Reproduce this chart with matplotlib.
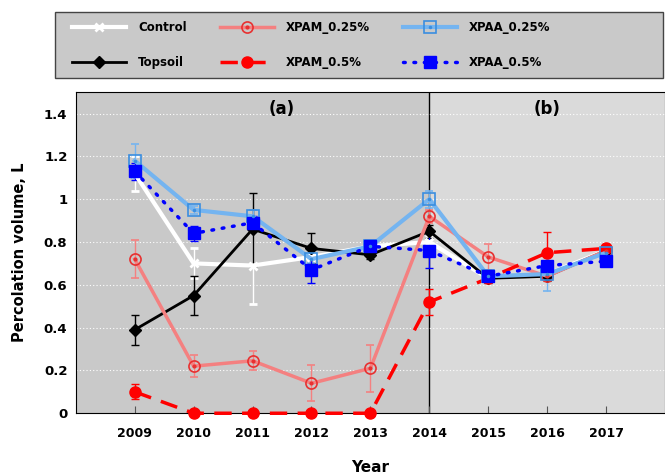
import matplotlib.pyplot as plt
from matplotlib.patches import Rectangle

years = [2009, 2010, 2011, 2012, 2013, 2014, 2015, 2016, 2017]

control = [1.12, 0.70, 0.69, 0.73, 0.78, 0.80, 0.63, 0.65, 0.76]
control_err = [0.08, 0.07, 0.18, 0.03, 0.02, 0.03, 0.02, 0.03, 0.02]
topsoil = [0.39, 0.55, 0.86, 0.77, 0.74, 0.85, 0.63, 0.64, 0.76]
topsoil_err = [0.07, 0.09, 0.17, 0.07, 0.02, 0.03, 0.02, 0.02, 0.02]
xpam025 = [0.72, 0.22, 0.245, 0.14, 0.21, 0.92, 0.73, 0.64, 0.76]
xpam025_err = [0.09, 0.05, 0.045, 0.085, 0.11, 0.03, 0.06, 0.02, 0.02]
xpam05 = [0.10, 0.0, 0.0, 0.0, 0.0, 0.52, 0.63, 0.75, 0.77]
xpam05_err = [0.035, 0.0, 0.0, 0.0, 0.0, 0.06, 0.02, 0.095, 0.02]
xpaa025 = [1.18, 0.95, 0.92, 0.72, 0.78, 1.00, 0.64, 0.65, 0.75]
xpaa025_err = [0.08, 0.02, 0.03, 0.02, 0.02, 0.04, 0.02, 0.08, 0.02]
xpaa05 = [1.13, 0.84, 0.89, 0.67, 0.78, 0.76, 0.64, 0.69, 0.71]
xpaa05_err = [0.04, 0.035, 0.03, 0.06, 0.02, 0.08, 0.02, 0.02, 0.02]

fig = plt.figure(figsize=(6.65, 4.75), dpi=100)
ax = fig.add_axes([0.114, 0.13, 0.886, 0.676])

# shaded periods
ax.axvspan(2008, 2014, color='#c9c9c9', zorder=0)
ax.axvspan(2014, 2018, color='#dadada', zorder=0)
ax.axvline(2014, color='black', lw=1, zorder=1)
for yv in [0.2, 0.4, 0.6, 0.8, 1.0, 1.2, 1.4]:
    ax.axhline(yv, color='white', lw=0.8, ls=(0, (1, 2)), zorder=1)

common = dict(capsize=3, elinewidth=1, capthick=1, zorder=3)
handles = []

eb = ax.errorbar(years, control, yerr=control_err, color='white', lw=3,
                 marker='x', ms=6, mew=2, **common)
handles.append(eb[0])
eb = ax.errorbar(years, topsoil, yerr=topsoil_err, color='black', lw=2,
                 marker='D', ms=6, **common)
handles.append(eb[0])
eb = ax.errorbar(years, xpam025, yerr=xpam025_err, color='#f48080', lw=2.5,
                 marker='o', ms=8, mfc='none', mec='#e83030', mew=1.2, **common)
dot, = ax.plot(years, xpam025, ls='none', marker='.', ms=4, color='#e83030', zorder=4)
handles.append((eb[0], dot))
eb = ax.errorbar(years, xpam05, yerr=xpam05_err, color='#ff0000', lw=2.5, ls=(0, (5, 3)),
                 marker='o', ms=8, **common)
eb[0].set_clip_on(False)
handles.append(eb[0])
eb = ax.errorbar(years, xpaa025, yerr=xpaa025_err, color='#74b4f0', lw=3,
                 marker='s', ms=8, mfc='none', mec='#3a8ee0', mew=1.2, **common)
dot, = ax.plot(years, xpaa025, ls='none', marker='.', ms=3, color='#3a8ee0', zorder=4)
handles.append((eb[0], dot))
eb = ax.errorbar(years, xpaa05, yerr=xpaa05_err, color='#0000ff', lw=2.5, ls=(0, (0.5, 2.5)),
                 dash_capstyle='round', marker='s', ms=8, **common)
handles.append(eb[0])

ax.set_xlim(2008, 2018)
ax.set_ylim(0, 1.5)
ax.set_xticks(years)
ax.set_xticklabels([str(y) for y in years], fontweight='bold', fontsize=9)
ax.set_yticks([0, 0.2, 0.4, 0.6, 0.8, 1.0, 1.2, 1.4])
ax.set_yticklabels(['0', '0.2', '0.4', '0.6', '0.8', '1', '1.2', '1.4'], fontweight='bold', fontsize=9.5)
ax.tick_params(axis='x', direction='in', length=5, pad=10, color='#555555')
ax.tick_params(axis='y', direction='in', length=0, pad=6)
ax.set_xlabel('Year', fontweight='bold', fontsize=11, labelpad=14)
ax.set_ylabel('Percolation volume, L', fontweight='bold', fontsize=10.5, labelpad=12)

ax.text(2011.5, 1.42, '(a)', ha='center', va='center', fontweight='bold', fontsize=12)
ax.text(2016.0, 1.42, '(b)', ha='center', va='center', fontweight='bold', fontsize=12)

# legend box drawn separately (wider than its entries)
fig.patches.append(Rectangle((0.083, 0.836), 0.914, 0.139, transform=fig.transFigure,
                             facecolor='#c9c9c9', edgecolor='#444444', lw=1, zorder=0))

labels = ['Control', 'Topsoil', 'XPAM_0.25%', 'XPAM_0.5%', 'XPAA_0.25%', 'XPAA_0.5%']
leg = fig.legend(handles, labels, ncol=3, loc='upper left', bbox_to_anchor=(0.108, 0.956),
                 frameon=False, prop={'weight': 'bold', 'size': 8.5}, numpoints=1,
                 handlelength=4.6, handletextpad=1.0, columnspacing=2.8, borderpad=0,
                 labelspacing=1.85, borderaxespad=0)

fig.savefig('out.png', dpi=100)
